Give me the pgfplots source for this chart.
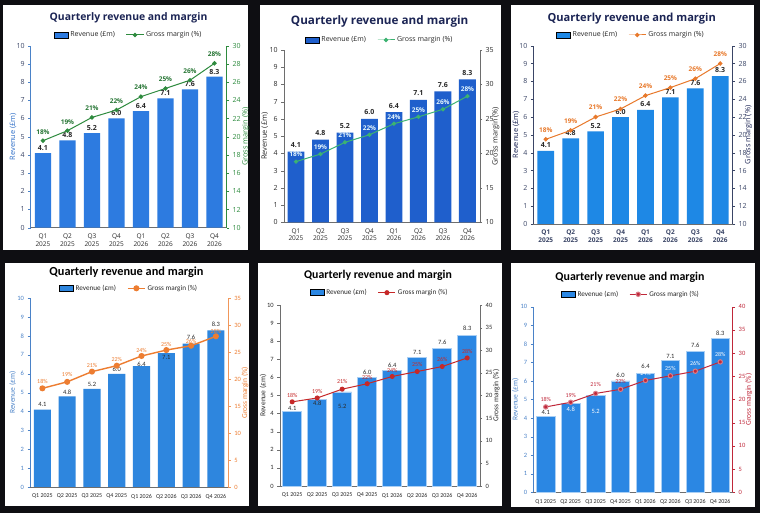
\documentclass[border=0pt]{standalone}
\usepackage{fontspec}
\setmainfont{Open Sans}
\newfontfamily\carl{Carlito}
\usepackage{pgfplots}
\usepackage{pgfplotstable}
\pgfplotsset{compat=1.18}

\definecolor{bgk}{HTML}{0E0E12}
\definecolor{navy}{HTML}{1B2454}
\definecolor{dk}{HTML}{2A2A2A}
\definecolor{tk}{HTML}{3A4566}
\definecolor{gy}{HTML}{6E6E6E}
\definecolor{barA}{HTML}{2D7BE0}
\definecolor{barB}{HTML}{1F5FCC}
\definecolor{barC}{HTML}{1E88E5}
\definecolor{barD}{HTML}{2E86DE}
\definecolor{barE}{HTML}{2B87E3}
\definecolor{grA}{HTML}{2E8B3E}
\definecolor{grB}{HTML}{3CB371}
\definecolor{orC}{HTML}{E8792B}
\definecolor{orD}{HTML}{ED7D31}
\definecolor{rdE}{HTML}{C62828}
\definecolor{rdF}{HTML}{C0283A}
\definecolor{blL}{HTML}{2F6FC8}
\definecolor{blD}{HTML}{4A82C8}

\newcommand\fT{\fontsize{7}{8}\selectfont}
\newcommand\fY{\fontsize{7.4}{8.5}\selectfont}
\newcommand\fS{\fontsize{6.5}{7.8}\selectfont}
\newcommand\fC{\carl\fontsize{6.5}{7.5}\selectfont}
\newcommand\fCy{\carl\fontsize{7.5}{8.5}\selectfont}
\newcommand\fCl{\carl\fontsize{7.2}{8.5}\selectfont}
\newcommand\fCs{\carl\fontsize{6}{7}\selectfont}

\pgfplotstableread{
x rev lab
0 4.1 4.1
1 4.8 4.8
2 5.2 5.2
3 6.0 6.0
4 6.4 6.4
5 7.1 7.1
6 7.6 7.6
7 8.3 8.3
}\rev

\pgfplotstableread{
x m lab
0 19.56 18
1 20.66 19
2 22.12 21
3 22.93 22
4 24.4 24
5 25.3 25
6 26.2 26
7 28.06 28
}\mA
\pgfplotstableread{
x m lab
0 18.8 18
1 19.9 19
2 21.6 21
3 22.7 22
4 24.3 24
5 25.3 25
6 26.4 26
7 28.3 28
}\mB
\pgfplotstableread{
x m lab
0 19.5 18
1 20.5 19
2 22.0 21
3 22.9 22
4 24.4 24
5 25.3 25
6 26.3 26
7 28.0 28
}\mC
\pgfplotstableread{
x m lab
0 18.3 18
1 19.5 19
2 21.4 21
3 22.5 22
4 24.3 24
5 25.4 25
6 26.2 26
7 27.95 28
}\mD
\pgfplotstableread{
x m lab
0 18.6 18
1 19.45 19
2 21.4 21
3 22.6 22
4 24.2 24
5 25.3 25
6 26.4 26
7 28.3 28
}\mE
\pgfplotstableread{
x m lab
0 18.4 18
1 19.4 19
2 21.3 21
3 22.2 22
4 24.1 24
5 25.1 25
6 26.1 26
7 28.1 28
}\mF

% label positions (panels 4-6)
\pgfplotstableread{
x y lab
0 4.35 4.1
1 5.04 4.8
2 5.42 5.2
3 6.24 6.0
4 6.5 6.4
5 6.86 7.1
6 7.92 7.6
7 8.62 8.3
}\rlD
\pgfplotstableread{
x y lab
0 19.5 18
1 20.8 19
2 22.6 21
3 23.6 22
4 25.4 24
5 26.5 25
6 26.9 26
7 28.9 28
}\plD
\pgfplotstableread{
x y lab
0 4.27 4.1
1 4.55 4.8
2 4.38 5.2
3 6.3 6.0
4 6.68 6.4
5 7.37 7.1
6 7.96 7.6
7 8.69 8.3
}\rlE
\pgfplotstableread{
x y lab
0 19.9 18
1 20.9 19
2 23.0 21
3 23.9 22
4 25.6 24
5 26.9 25
6 28.0 26
7 29.8 28
}\plE
\pgfplotstableread{
x y lab
0 4.29 4.1
3 6.32 6.0
4 6.8 6.4
5 7.34 7.1
6 7.92 7.6
7 8.56 8.3
}\rlFd
\pgfplotstableread{
x y lab
1 4.47 4.8
2 4.38 5.2
}\rlFw
\pgfplotstableread{
x y lab
0 19.9 18
1 20.97 19
2 23.2 21
3 23.8 22
}\plFr
\pgfplotstableread{
x y lab
4 25.6 24
5 26.6 25
6 27.8 26
7 29.7 28
}\plFw

\pgfplotsset{
  every axis/.append style={/pgf/number format/assume math mode=true},
  baraxis/.style={scale only axis, anchor=south west, xmin=-0.5, xmax=7.5, ymin=0, ymax=10,
    ytick={0,1,...,10}, axis x line*=bottom, axis y line*=left,
    xtick={0,...,7}, tick align=outside, major tick length=2.5pt,
    xtick style={draw=none}, clip=false},
  twoline/.style={xticklabels={{Q1\\2025},{Q2\\2025},{Q3\\2025},{Q4\\2025},{Q1\\2026},{Q2\\2026},{Q3\\2026},{Q4\\2026}},
    xticklabel style={align=center, font=\fS, text=dk}},
  oneline/.style={xticklabels={Q1 2025,Q2 2025,Q3 2025,Q4 2025,Q1 2026,Q2 2026,Q3 2026,Q4 2026},
    xticklabel style={font=\fCs, text=dk, yshift=-1pt}},
  lineaxis/.style={scale only axis, anchor=south west, xmin=-0.5, xmax=7.5, axis x line=none,
    axis y line*=right, tick align=outside, major tick length=2.5pt, clip=false,
    legend columns=2, legend cell align=left,
    legend style={draw=none, fill=none, anchor=center, font=\fT, text=dk,
      /tikz/every even column/.append style={column sep=9pt}}},
  barleg/.style={legend image code/.code={\fill[#1] (0pt,-3pt) rectangle (14pt,3pt);}},
}

\begin{document}
\begin{tikzpicture}
\fill[bgk] (0pt,0pt) rectangle (760pt,513pt);
\fill[white] (3pt,263pt) rectangle (248pt,508pt);
\fill[white] (260pt,263pt) rectangle (501pt,508pt);
\fill[white] (511pt,263pt) rectangle (754pt,508pt);
\fill[white] (5pt,7pt) rectangle (249pt,250pt);
\fill[white] (258pt,7pt) rectangle (502pt,250pt);
\fill[white] (511pt,6pt) rectangle (755pt,250pt);

\node[font=\bfseries\fontsize{10.4}{12}\selectfont, text=navy] at (128.5pt,494.7pt) {Quarterly revenue and margin};
\node[font=\bfseries\fontsize{11.7}{14}\selectfont, text=navy] at (379.7pt,491.3pt) {Quarterly revenue and margin};
\node[font=\bfseries\fontsize{11.1}{13}\selectfont, text=navy] at (631.7pt,494.7pt) {Quarterly revenue and margin};
\node[font=\carl\bfseries\fontsize{12.3}{14}\selectfont, text=black] at (126.5pt,240.3pt) {Quarterly revenue and margin};
\node[font=\carl\bfseries\fontsize{11.8}{14}\selectfont, text=black] at (378pt,237.7pt) {Quarterly revenue and margin};
\node[font=\carl\bfseries\fontsize{11.9}{14}\selectfont, text=black] at (630pt,235.3pt) {Quarterly revenue and margin};

% ===== Panel 1 =====
\begin{axis}[baraxis, twoline, at={(30.7pt,285.3pt)}, width=196pt, height=182pt,
  y axis line style={draw=blD}, x axis line style={draw=gy}, ytick style={draw=blD},
  yticklabel style={font=\fT, text=tk},
  ylabel={Revenue (£m)}, ylabel style={font=\fY, text=blL, at={(axis description cs:-0.09,0.5)}, anchor=center}]
\addplot[ybar, bar width=0.66, fill=barA, draw=none,
  nodes near coords, point meta=explicit symbolic,
  every node near coord/.append style={anchor=center, yshift=5pt, font=\bfseries\fT, text=dk}]
  table[x=x, y=rev, meta=lab] {\rev};
\end{axis}
\begin{axis}[lineaxis, at={(30.7pt,285.3pt)}, width=196pt, height=182pt,
  ymin=10, ymax=30, ytick={10,12,...,30},
  y axis line style={draw=grA}, ytick style={draw=grA}, yticklabel style={font=\fT, text=grA},
  ylabel={Gross margin (\%)}, ylabel style={font=\fY, text=grA, rotate=0, at={(axis description cs:1.098,0.5)}, anchor=center},
  legend style={at={(axis description cs:0.5,1.059)}}]
\addlegendimage{barleg, fill=barA}
\addlegendentry{Revenue (£m)}
\addplot[grA, line width=1pt, mark=*, mark size=1.7pt, mark options={fill=grA},
  nodes near coords={\pgfplotspointmeta\%}, point meta=explicit symbolic,
  every node near coord/.append style={anchor=center, yshift=9pt, font=\bfseries\fS, text=grA!85!black}]
  table[x=x, y=m, meta=lab] {\mA};
\addlegendentry{Gross margin (\%)}
\end{axis}

% ===== Panel 2 =====
\begin{axis}[baraxis, twoline, at={(283.7pt,290.7pt)}, width=196pt, height=172.3pt,
  y axis line style={draw=gy}, x axis line style={draw=gy}, ytick style={draw=gy},
  yticklabel style={font=\fT, text=dk},
  ylabel={Revenue (£m)}, ylabel style={font=\fY, text=dk, at={(axis description cs:-0.097,0.5)}, anchor=center}]
\addplot[ybar, bar width=0.69, fill=barB, draw=none,
  nodes near coords, point meta=explicit symbolic,
  every node near coord/.append style={anchor=center, yshift=6.5pt, font=\bfseries\fT, text=dk}]
  table[x=x, y=rev, meta=lab] {\rev};
\end{axis}
\begin{axis}[lineaxis, at={(283.7pt,290.7pt)}, width=196pt, height=172.3pt,
  ymin=10, ymax=35, ytick={10,15,...,35},
  y axis line style={draw=gy}, ytick style={draw=gy}, yticklabel style={font=\fT, text=dk},
  ylabel={Gross margin (\%)}, ylabel style={font=\fY, text=dk, rotate=0, at={(axis description cs:1.082,0.5)}, anchor=center},
  legend style={at={(axis description cs:0.49,1.058)}}]
\addlegendimage{barleg, fill=barB}
\addlegendentry{Revenue (£m)}
\addplot[grB, line width=1pt, mark=*, mark size=1.6pt, mark options={fill=grB},
  nodes near coords={\pgfplotspointmeta\%}, point meta=explicit symbolic,
  every node near coord/.append style={anchor=center, yshift=7pt, font=\bfseries\fS, text=white!90!cyan}]
  table[x=x, y=m, meta=lab] {\mB};
\addlegendentry{Gross margin (\%)}
\end{axis}

% ===== Panel 3 =====
\begin{axis}[baraxis, twoline, at={(533.3pt,289pt)}, width=199.4pt, height=178.3pt,
  y axis line style={draw=tk}, x axis line style={draw=gy}, ytick style={draw=tk},
  yticklabel style={font=\fT, text=tk},
  xticklabel style={font=\bfseries\fS, text=tk},
  ylabel={Revenue (£m)}, ylabel style={font=\fY, text=navy, at={(axis description cs:-0.087,0.5)}, anchor=center}]
\addplot[ybar, bar width=0.67, fill=barC, draw=none,
  nodes near coords, point meta=explicit symbolic,
  every node near coord/.append style={anchor=center, yshift=5.5pt, font=\bfseries\fT, text=dk}]
  table[x=x, y=rev, meta=lab] {\rev};
\end{axis}
\begin{axis}[lineaxis, at={(533.3pt,289pt)}, width=199.4pt, height=178.3pt,
  ymin=10, ymax=30, ytick={10,12,...,30},
  y axis line style={draw=tk}, ytick style={draw=tk}, yticklabel style={font=\fT, text=tk},
  ylabel={Gross margin (\%)}, ylabel style={font=\fY, text=navy, rotate=0, at={(axis description cs:1.08,0.5)}, anchor=center},
  legend style={at={(axis description cs:0.49,1.06)}}]
\addlegendimage{barleg, fill=barC}
\addlegendentry{Revenue (£m)}
\addplot[orC, line width=1pt, mark=*, mark size=1.7pt, mark options={fill=orC},
  nodes near coords={\pgfplotspointmeta\%}, point meta=explicit symbolic,
  every node near coord/.append style={anchor=center, yshift=9.5pt, font=\bfseries\fS, text=orC}]
  table[x=x, y=m, meta=lab] {\mC};
\addlegendentry{Gross margin (\%)}
\end{axis}

% ===== Panel 4 =====
\begin{axis}[baraxis, oneline, at={(30pt,26pt)}, width=198.3pt, height=188.7pt,
  y axis line style={draw=blD}, x axis line style={draw=gy}, ytick style={draw=blD},
  yticklabel style={font=\fC, text=blD},
  ylabel={Revenue (£m)}, ylabel style={font=\fCy, text=blD, at={(axis description cs:-0.087,0.5)}, anchor=center}]
\addplot[ybar, bar width=0.69, fill=barD, draw=none] table[x=x, y=rev] {\rev};
\addplot[draw=none, mark=none, forget plot, nodes near coords, point meta=explicit symbolic,
  every node near coord/.append style={anchor=center, font=\fC, text=dk}]
  table[x=x, y=y, meta=lab] {\rlD};
\end{axis}
\begin{axis}[lineaxis, at={(30pt,26pt)}, width=198.3pt, height=188.7pt,
  ymin=0, ymax=35, ytick={0,5,...,35},
  y axis line style={draw=orD!80}, ytick style={draw=orD!80}, yticklabel style={font=\fC, text=orD},
  ylabel={Gross margin (\%)}, ylabel style={font=\fCy, text=orD, rotate=0, at={(axis description cs:1.084,0.5)}, anchor=center},
  legend style={font=\fCl, at={(axis description cs:0.5,1.053)}}]
\addlegendimage{barleg, fill=barD}
\addlegendentry{Revenue (£m)}
\addplot[orD, line width=1.4pt, mark=*, mark size=2.3pt, mark options={fill=orD}]
  table[x=x, y=m] {\mD};
\addlegendentry{Gross margin (\%)}
\addplot[draw=none, mark=none, forget plot, nodes near coords={\pgfplotspointmeta\%}, point meta=explicit symbolic,
  every node near coord/.append style={anchor=center, font=\fCs, text=orD}]
  table[x=x, y=y, meta=lab] {\plD};
\end{axis}

% ===== Panel 5 =====
\begin{axis}[baraxis, oneline, at={(279.7pt,27pt)}, width=200pt, height=181pt,
  y axis line style={draw=gy}, x axis line style={draw=gy}, ytick style={draw=gy},
  yticklabel style={font=\fC, text=dk},
  ylabel={Revenue (£m)}, ylabel style={font=\fCy, text=dk, at={(axis description cs:-0.083,0.5)}, anchor=center}]
\addplot[ybar, bar width=0.76, fill=barE, draw=barE!40, line width=0.6pt] table[x=x, y=rev] {\rev};
\addplot[draw=none, mark=none, forget plot, nodes near coords, point meta=explicit symbolic,
  every node near coord/.append style={anchor=center, font=\fC, text=dk}]
  table[x=x, y=y, meta=lab] {\rlE};
\end{axis}
\begin{axis}[lineaxis, at={(279.7pt,27pt)}, width=200pt, height=181pt,
  ymin=0, ymax=40, ytick={0,5,...,40},
  y axis line style={draw=gy}, ytick style={draw=gy}, yticklabel style={font=\fC, text=dk},
  ylabel={Gross margin (\%)}, ylabel style={font=\fCy, text=dk, rotate=0, at={(axis description cs:1.083,0.5)}, anchor=center},
  legend style={font=\fCl, at={(axis description cs:0.5,1.068)}}]
\addlegendimage{barleg, fill=barE}
\addlegendentry{Revenue (£m)}
\addplot[rdE, line width=1pt, mark=*, mark size=2pt, mark options={fill=rdE}]
  table[x=x, y=m] {\mE};
\addlegendentry{Gross margin (\%)}
\addplot[draw=none, mark=none, forget plot, nodes near coords={\pgfplotspointmeta\%}, point meta=explicit symbolic,
  every node near coord/.append style={anchor=center, font=\fCs, text=rdE}]
  table[x=x, y=y, meta=lab] {\plE};
\end{axis}

% ===== Panel 6 =====
\begin{axis}[baraxis, oneline, at={(533.3pt,20.7pt)}, width=199.4pt, height=185.6pt,
  y axis line style={draw=blD}, x axis line style={draw=gy}, ytick style={draw=blD},
  yticklabel style={font=\fC, text=blD},
  ylabel={Revenue (£m)}, ylabel style={font=\fCy, text=blD, at={(axis description cs:-0.09,0.5)}, anchor=center}]
\addplot[ybar, bar width=0.74, fill=barE, draw=barE!40, line width=0.6pt] table[x=x, y=rev] {\rev};
\addplot[draw=none, mark=none, forget plot, nodes near coords, point meta=explicit symbolic,
  every node near coord/.append style={anchor=center, font=\fC, text=dk}]
  table[x=x, y=y, meta=lab] {\rlFd};
\addplot[draw=none, mark=none, forget plot, nodes near coords, point meta=explicit symbolic,
  every node near coord/.append style={anchor=center, font=\fC, text=white}]
  table[x=x, y=y, meta=lab] {\rlFw};
\end{axis}
\begin{axis}[lineaxis, at={(533.3pt,20.7pt)}, width=199.4pt, height=185.6pt,
  ymin=0, ymax=40, ytick={0,5,...,40},
  y axis line style={draw=rdF}, ytick style={draw=rdF}, yticklabel style={font=\fC, text=rdF},
  ylabel={Gross margin (\%)}, ylabel style={font=\fCy, text=rdF, rotate=0, at={(axis description cs:1.08,0.5)}, anchor=center},
  legend style={font=\fCl, at={(axis description cs:0.49,1.067)}}]
\addlegendimage{barleg, fill=barE}
\addlegendentry{Revenue (£m)}
\addplot[rdF, line width=1pt, mark=*, mark size=2.2pt, mark options={fill=rdF, draw=rdF!60}]
  table[x=x, y=m] {\mF};
\addlegendentry{Gross margin (\%)}
\addplot[draw=none, mark=none, forget plot, nodes near coords={\pgfplotspointmeta\%}, point meta=explicit symbolic,
  every node near coord/.append style={anchor=center, font=\fCs, text=rdF}]
  table[x=x, y=y, meta=lab] {\plFr};
\addplot[draw=none, mark=none, forget plot, nodes near coords={\pgfplotspointmeta\%}, point meta=explicit symbolic,
  every node near coord/.append style={anchor=center, font=\fCs, text=white}]
  table[x=x, y=y, meta=lab] {\plFw};
\end{axis}

\pgfresetboundingbox
\path[use as bounding box] (0pt,0pt) rectangle (760pt,513pt);
\end{tikzpicture}
\end{document}
